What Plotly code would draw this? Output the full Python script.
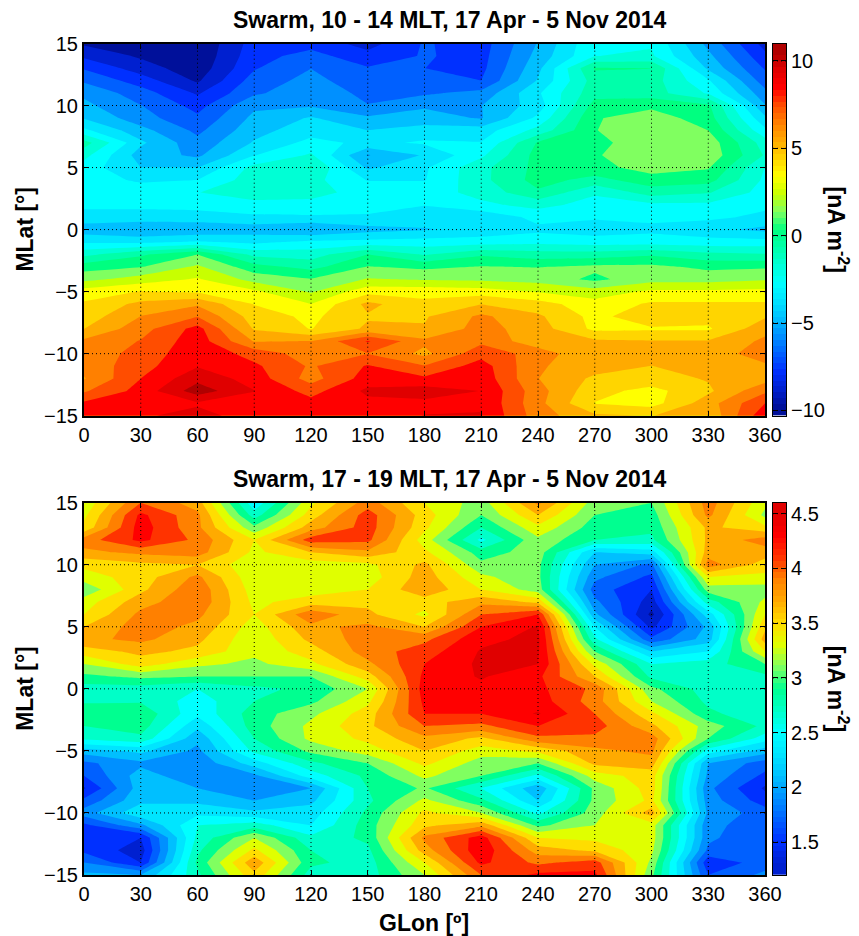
import numpy as np
import plotly.graph_objects as go

lon = [0, 30, 60, 90, 120, 150, 180, 210, 240, 270, 300, 330, 360]
lat = list(range(15, -16, -1))

# upper panel, one list per longitude, lat 15 .. -15 (first reading, on a 20-band scale)
u000 = [-9.4,-8.4,-7.2,-6.2,-5.2,-4.7,-4.0,-2.6,-1.0,-1.6,-2.3,-2.4,-2.4,-2.6,-3.3,-4.5,-3.0,-1.4,-0.1,1.1,3.0,3.7,4.0,4.6,5.9,6.1,6.0,5.6,6.6,8.0,8.6]
u030 = [-10.0,-9.4,-8.7,-7.6,-6.6,-6.0,-5.6,-4.6,-3.7,-4.4,-3.9,-3.0,-2.3,-2.6,-3.3,-5.0,-3.1,-0.8,0.3,1.9,3.6,4.9,5.7,6.3,6.8,7.1,7.4,7.8,8.2,8.4,8.7]
u060 = [-10.2,-10.1,-9.9,-9.4,-8.3,-7.5,-6.9,-6.3,-5.7,-5.2,-3.9,-2.85,-1.8,-2.5,-3.3,-4.8,-2.7,0.35,1.6,2.6,3.4,5.5,6.7,8.2,8.4,8.6,8.8,9.6,10.5,8.7,9.3]
u090 = [-7.7,-7.5,-7.2,-6.6,-6.2,-5.2,-4.7,-4.3,-3.8,-2.9,-1.6,-1.5,-1.6,-2.0,-3.1,-4.5,-3.1,-1.4,-0.3,1.0,2.7,3.5,4.1,4.5,5.6,7.4,8.0,8.4,8.9,8.4,8.3]
u120 = [-7.5,-6.7,-6.05,-5.7,-5.4,-5.1,-3.8,-3.3,-2.5,-1.7,-1.2,-1.6,-1.6,-2.1,-3.0,-5.0,-2.6,-1.5,-0.9,0.4,1.3,2.5,3.3,3.5,5.7,6.2,6.6,6.3,7.4,8.2,8.5]
u150 = [-8.6,-7.8,-7.0,-6.7,-6.3,-6.0,-4.8,-3.9,-3.1,-5.05,-4.1,-2.9,-2.2,-2.4,-3.0,-4.3,-2.5,-0.7,0.4,1.5,3.2,4.9,4.5,4.8,7.9,6.7,7.9,8.3,9.1,8.6,8.3]
u180 = [-7.0,-7.0,-7.1,-6.6,-6.2,-5.1,-4.6,-3.4,-2.7,-3.8,-3.0,-2.9,-2.3,-2.8,-3.4,-4.0,-2.4,-1.3,0.1,1.3,3.2,3.8,4.5,4.7,5.9,5.4,6.8,8.0,9.4,8.6,8.9]
u210 = [-7.6,-7.5,-7.4,-7.1,-5.7,-5.0,-5.05,-3.4,-2.8,-2.0,-1.4,-1.4,-1.6,-2.0,-3.7,-3.6,-2.3,-0.8,0.4,1.2,3.0,4.6,5.9,6.1,6.5,7.4,8.3,8.5,8.85,8.8,8.9]
u240 = [-4.9,-4.6,-4.2,-3.8,-3.0,-3.4,-2.6,-1.6,-0.6,-0.3,-0.4,-0.3,-0.8,-1.6,-2.5,-3.1,-2.1,-1.0,0.3,1.0,2.4,4.0,4.8,5.1,5.0,6.3,5.8,5.7,6.1,6.0,6.2]
u270 = [-1.9,-1.8,-0.6,-1.0,-0.9,-0.3,0.25,0.3,-0.1,0.2,0.0,-0.9,-1.7,-2.2,-2.7,-3.4,-2.3,-1.0,0.6,0.1,1.9,2.9,3.2,3.3,4.8,4.65,5.1,4.4,3.9,3.5,4.8]
u300 = [-1.9,-1.7,-0.7,-1.0,-1.0,0.1,0.9,1.2,1.3,1.35,0.8,-0.1,-1.0,-2.0,-2.6,-3.1,-2.3,-0.8,0.6,1.0,2.7,3.7,4.3,3.4,4.7,5.2,4.6,4.2,3.2,3.1,4.6]
u330 = [-5.3,-4.7,-4.1,-2.7,-1.9,-0.5,-0.2,0.35,1.0,1.1,0.45,-0.3,-1.2,-2.0,-2.6,-3.6,-2.4,-1.1,0.1,1.0,2.7,3.7,3.9,3.4,4.7,5.1,4.9,4.7,4.4,5.2,4.8]
u360 = [-8.6,-7.9,-7.2,-6.6,-5.7,-4.9,-3.7,-2.6,-1.5,-1.3,-1.8,-2.0,-2.2,-2.6,-3.1,-4.2,-2.4,-1.2,0.2,1.3,2.8,3.7,4.5,5.3,5.9,6.2,5.5,5.2,6.5,7.8,8.6]
upper_cols = [u000,u030,u060,u090,u120,u150,u180,u210,u240,u270,u300,u330,u360]

# lower panel
l000 = [3.25,3.35,3.45,3.9,3.75,3.45,3.3,3.05,3.3,3.4,3.6,3.75,3.5,3.2,2.95,2.7,2.78,2.9,2.8,2.65,2.1,1.75,1.6,1.38,1.65,1.9,1.55,1.5,1.55,1.8,2.05]
l030 = [4.0,4.25,4.3,4.25,3.85,3.55,3.5,3.55,3.72,3.85,3.9,3.85,3.65,3.5,3.05,2.7,2.78,2.95,2.9,2.75,2.25,1.95,2.1,2.1,2.15,2.35,1.95,1.4,1.3,1.4,2.0]
l060 = [3.7,3.85,3.85,3.95,3.9,3.6,3.85,3.95,3.95,3.85,3.75,3.65,3.55,3.25,3.0,2.6,2.5,2.45,2.25,2.05,1.95,1.85,1.85,2.0,2.15,2.35,2.6,2.65,2.75,2.85,2.75]
l090 = [2.45,2.7,3.05,3.4,3.35,3.25,3.25,3.3,3.35,3.4,3.3,3.25,3.25,3.15,3.0,2.75,2.8,2.9,2.9,2.8,2.65,2.3,1.95,1.8,2.0,2.25,2.7,3.2,3.45,3.75,3.55]
l120 = [3.35,3.5,3.7,4.1,3.6,3.3,3.25,3.3,3.5,3.95,3.75,3.65,3.5,3.35,3.0,2.85,2.95,3.15,3.25,3.25,3.05,2.75,2.5,2.0,2.15,2.3,2.4,2.65,2.8,2.85,2.7]
l150 = [3.9,4.1,4.1,4.05,3.75,3.35,3.3,3.4,3.55,3.65,3.85,3.9,3.9,3.75,3.5,3.2,3.35,3.5,3.55,3.45,3.3,3.0,2.85,2.8,2.75,2.85,2.9,2.85,2.75,2.7,2.7]
l180 = [3.4,3.5,3.45,3.3,3.45,3.65,3.7,3.75,3.5,3.35,3.6,3.95,4.1,4.2,4.25,4.3,4.25,4.2,4.0,3.75,3.6,3.45,3.25,3.03,3.25,3.45,3.55,3.85,3.7,3.4,3.2]
l210 = [3.1,3.0,2.8,2.55,2.9,3.05,3.25,3.4,3.75,4.0,4.2,4.35,4.42,4.44,4.42,4.35,4.3,4.2,3.95,3.55,3.3,3.1,3.0,2.6,2.85,3.2,3.75,4.3,4.35,4.25,4.0]
l240 = [3.85,3.6,3.35,3.15,3.1,3.05,3.05,3.1,3.55,4.2,4.42,4.45,4.43,4.4,4.25,4.25,4.3,4.42,4.2,3.95,3.45,3.0,2.55,2.05,2.2,2.55,2.95,3.4,3.7,3.95,4.25]
l270 = [3.1,3.0,2.9,2.8,2.2,2.0,1.85,1.7,1.85,2.05,2.4,2.65,3.0,3.35,3.6,3.95,3.9,4.0,4.1,3.95,3.75,3.65,3.3,3.05,3.05,3.1,3.2,3.35,3.55,4.1,4.25]
l300 = [3.0,2.9,2.85,2.75,2.3,1.75,1.55,1.4,1.3,1.15,1.35,1.65,2.2,2.6,2.75,3.05,3.2,3.45,3.65,3.9,3.85,3.7,3.5,3.5,3.45,3.7,3.3,3.3,3.25,3.15,3.05]
l330 = [3.9,3.85,3.65,3.65,3.7,3.9,3.4,3.1,2.7,2.3,2.05,2.1,2.4,2.7,2.8,2.7,2.75,2.85,3.1,3.0,2.5,2.0,1.95,1.85,1.9,1.95,1.85,1.85,1.75,1.45,1.6]
l360 = [3.25,3.15,3.45,3.9,3.7,3.5,3.35,3.1,3.25,3.4,3.55,3.7,3.4,3.0,2.75,2.7,2.75,2.65,2.75,2.5,2.1,1.7,1.55,1.37,1.5,1.7,1.7,1.6,1.6,1.7,1.85]
lower_cols = [l000,l030,l060,l090,l120,l150,l180,l210,l240,l270,l300,l330,l360]

lon_ticks = [0, 30, 60, 90, 120, 150, 180, 210, 240, 270, 300, 330, 360]
lat_ticks = [-15, -10, -5, 0, 5, 10, 15]
upper_cb_ticks = [-10, -5, 0, 5, 10]
lower_cb_ticks = [1.5, 2, 2.5, 3, 3.5, 4, 4.5]
lower_cb_labels = ["1.5", "2", "2.5", "3", "3.5", "4", "4.5"]

upper_bands = ["#00109a","#0020d0","#0030ff","#0060ff","#0090ff","#00bfff","#00e5ff","#00ffff","#00ffd5","#00ffaa","#00ff80",
               "#80ff60","#c8ff00","#ffff00","#ffd500","#ffaa00","#ff8000","#ff4d00","#ff0000","#e00000","#b00000"]
lower_bands = ["#00109a","#0020d0","#0030ff","#0060ff","#0090ff","#00bfff","#00e5ff","#00ffff","#00ffc8","#00ff90",
               "#80ff60","#e0ff00","#ffdd00","#ffaa00","#ff8000","#ff3300","#ff0000","#e00000"]
upper_range = (-10.3, 11.0)
lower_range = (1.2, 4.6)
upper_step = 1.0143
upper_levels = (-10.3 + upper_step, -10.3 + 20 * upper_step, upper_step)
lower_levels = (1.2, 4.4, 0.2)

# the first reading counted 20 bands; the reference has 21: recalibrate those readings
read_edges = [-10.3 + 1.065 * k for k in range(21)]
true_edges = [-10.3 + upper_step * k for k in range(9)] + [-10.3 + upper_step * k for k in range(10, 22)]

# the page sets the figure 8 px in from the window's corner
PAD = 8
W, H = 859 - PAD, 936 - PAD
px = lambda a, b: [(a - PAD) / W, (b - PAD) / W]
py = lambda top, bot: [1 - (bot - PAD) / H, 1 - (top - PAD) / H]
FONT = "Liberation Sans"

fig = go.Figure()


def stops(colors):
    return [[i / (len(colors) - 1), c] for i, c in enumerate(colors)]


def ramp(bands, levels, zr):
    s, c = levels[0], levels[2]
    out = []
    for i, col in enumerate(bands):
        mid = s + (i - 0.5) * c
        f = (mid - zr[0]) / (zr[1] - zr[0])
        if 0 < f < 1:
            out.append([f, col])
    return [[0, out[0][1]]] + out + [[1, out[-1][1]]]


def panel(n, z, bands, levels, zr, top, bot, cb_ticks, cb_labels):
    xa, ya, xb, yb = f"x{2*n-1}", f"y{2*n-1}", f"x{2*n}", f"y{2*n}"
    fig.add_trace(go.Contour(x=lon, y=lat, z=z, xaxis=xa, yaxis=ya, showscale=False,
                             colorscale=stops(bands), autocontour=False, hoverinfo="skip",
                             contours=dict(start=levels[0], end=levels[1], size=levels[2], coloring="fill", showlines=False),
                             line=dict(width=0, smoothing=0)))
    edges = np.linspace(zr[0], zr[1], 65)
    mids = (edges[:-1] + edges[1:]) / 2
    fig.add_trace(go.Heatmap(x=[0, 1], y=edges, z=[[v] for v in mids], xaxis=xb, yaxis=yb, showscale=False,
                             zmin=zr[0], zmax=zr[1], colorscale=ramp(bands, levels, zr), hoverinfo="skip"))
    common = dict(showline=True, linecolor="black", linewidth=2, mirror="allticks", ticks="inside", automargin=False,
                  ticklen=5, tickwidth=1, tickcolor="black", showgrid=False, zeroline=False,
                  tickfont=dict(family=FONT, size=20, color="black"))
    fig.update_layout({
        "xaxis" + xa[1:]: dict(common, domain=px(84, 765), range=[0, 360], tickvals=lon_ticks, anchor=ya),
        "yaxis" + ya[1:]: dict(common, domain=py(top, bot), range=[-15, 15], tickvals=lat_ticks, anchor=xa),
        "xaxis" + xb[1:]: dict(common, domain=px(773, 786), range=[0, 1], anchor=yb, ticks="", showticklabels=False, linewidth=1),
        "yaxis" + yb[1:]: dict(common, domain=py(top, bot), range=list(zr), tickvals=cb_ticks, ticktext=cb_labels,
                               side="right", anchor=xb, linewidth=1),
    })
    dot = dict(color="black", width=1, dash="1px,3px")
    for v in lon_ticks[1:-1]:
        fig.add_shape(type="line", xref=xa, yref=ya, x0=v, x1=v, y0=-15, y1=15, line=dot, layer="above")
    for v in lat_ticks[1:-1]:
        fig.add_shape(type="line", xref=xa, yref=ya, x0=0, x1=360, y0=v, y1=v, line=dot, layer="above")
    for v in cb_ticks:
        fig.add_shape(type="line", xref=xb, yref=yb, x0=0, x1=1, y0=v, y1=v, line=dot, layer="above")


upper_z = np.interp(np.array(upper_cols).T, read_edges, true_edges)
lower_z = np.array(lower_cols).T
panel(1, upper_z, upper_bands, upper_levels, upper_range, 43.5, 415.7, upper_cb_ticks, [str(v).replace("-", "\u2212") for v in upper_cb_ticks])
panel(2, lower_z, lower_bands, lower_levels, lower_range, 502.7, 875, lower_cb_ticks, lower_cb_labels)

titles = [("Swarm, 10 - 14 MLT, 17 Apr - 5 Nov 2014", 20), ("Swarm, 17 - 19 MLT, 17 Apr - 5 Nov 2014", 479)]
anns = []
bold = dict(family=FONT, size=23, color="black")
X = lambda v: (v - PAD) / W
Y = lambda v: 1 - (v - PAD) / H
for text, y in titles:
    anns.append(dict(text=f"<b>{text}</b>", x=X(450), y=Y(y), xref="paper", yref="paper", showarrow=False,
                     xanchor="center", yanchor="middle", font=bold))
for y in (229.6, 688.8):
    anns.append(dict(text="<b>MLat [°]</b>", x=X(25), y=Y(y), xref="paper", yref="paper", showarrow=False,
                     xanchor="center", yanchor="middle", textangle=-90, font=bold))
    anns.append(dict(text="<b>[nA m<sup>-2</sup>]</b>", x=X(838), y=Y(y), xref="paper", yref="paper", showarrow=False,
                     xanchor="center", yanchor="middle", textangle=90, font=bold))
anns.append(dict(text="<b>GLon [º]</b>", x=X(424), y=Y(923), xref="paper", yref="paper", showarrow=False,
                 xanchor="center", yanchor="middle", font=bold))

fig.update_layout(width=W, height=H, margin=dict(l=0, r=0, t=0, b=0), paper_bgcolor="white", plot_bgcolor="white",
                  showlegend=False, annotations=anns, template="none")
fig.write_html("out.html")
